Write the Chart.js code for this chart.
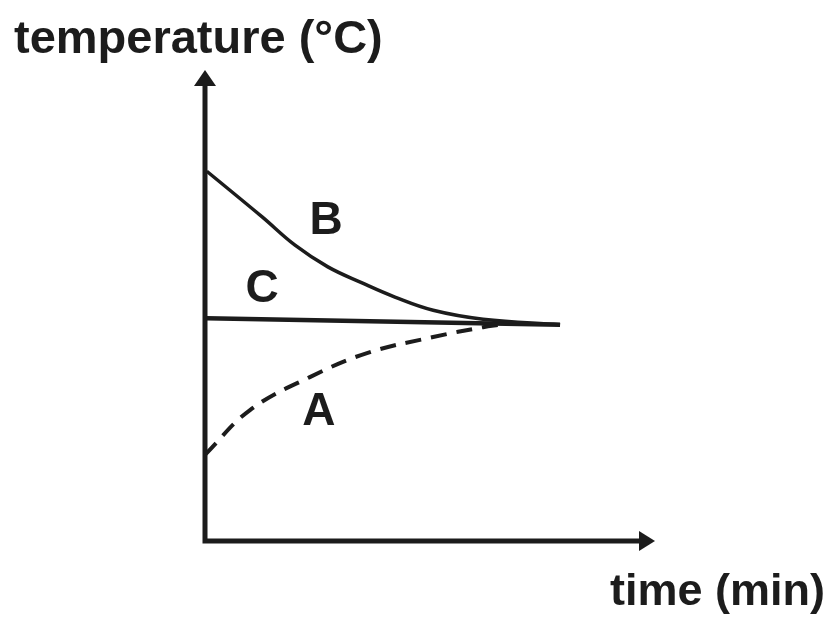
<!DOCTYPE html>
<html>
<head>
<meta charset="utf-8">
<script src="https://cdn.jsdelivr.net/npm/chart.js@4"></script>
<style>
  html, body { margin: 0; padding: 0; background: #ffffff; }
  #wrap { width: 826px; height: 621px; }
</style>
</head>
<body>
<div id="wrap"><canvas id="temp-chart" width="826" height="621"></canvas></div>
<script>
// curve B: hot sample cooling down
var b_time = [0.04, 1.27, 2.0, 2.73, 3.49, 4.22, 5.07, 6.18, 7.89];
var b_temp = [7.85, 6.88, 6.28, 5.82, 5.48, 5.18, 4.90, 4.71, 4.59];
// line C: constant temperature
var c_time = [0.04, 7.89];
var c_temp = [4.73, 4.59];
// curve A (dashed): cold sample warming up
var a_time = [0, 1.0, 2.33, 3.6, 5.07, 6.18, 6.56];
var a_temp = [1.83, 2.78, 3.48, 3.99, 4.33, 4.54, 4.59];
// curve letters and where they sit
var curve_names = ['B', 'C', 'A'];
var name_time = [2.69, 1.27, 2.53];
var name_temp = [6.79, 5.35, 2.74];

var y_title = 'temperature (°C)';
var x_title = 'time (min)';

var ink = '#1c1c1c';

function to_points(xs, ys){
    var pts = [];
    for (var i = 0; i < xs.length; i++){
        pts.push({x: xs[i], y: ys[i]});
    }
    return pts;
}

function arrow(ctx, x, y, dir){
    ctx.beginPath();
    if (dir == 'up'){
        ctx.moveTo(x, y);
        ctx.lineTo(x - 11, y + 16);
        ctx.lineTo(x + 11, y + 16);
    } else {
        ctx.moveTo(x, y);
        ctx.lineTo(x - 16, y - 10);
        ctx.lineTo(x - 16, y + 10);
    }
    ctx.closePath();
    ctx.fill();
}

var sketch_plugin = {
    id: 'sketch',
    beforeDatasetsDraw: function (chart) {
        var ctx = chart.ctx;
        var a = chart.chartArea;
        ctx.save();
        ctx.strokeStyle = ink;
        ctx.fillStyle = ink;
        ctx.lineWidth = 5;
        ctx.lineCap = 'square';
        ctx.beginPath();
        ctx.moveTo(a.left, a.top + 12);
        ctx.lineTo(a.left, a.bottom);
        ctx.lineTo(a.right - 12, a.bottom);
        ctx.stroke();
        arrow(ctx, a.left, a.top, 'up');
        arrow(ctx, a.right, a.bottom, 'right');
        ctx.restore();
    },
    afterDraw: function (chart) {
        var ctx = chart.ctx;
        var xs = chart.scales.x;
        var ys = chart.scales.y;
        ctx.save();
        ctx.fillStyle = ink;
        ctx.font = 'bold 46px "Liberation Sans", Arial, sans-serif';
        ctx.textAlign = 'center';
        ctx.textBaseline = 'middle';
        for (var i = 0; i < curve_names.length; i++){
            ctx.fillText(curve_names[i], xs.getPixelForValue(name_time[i]), ys.getPixelForValue(name_temp[i]));
        }
        ctx.textBaseline = 'alphabetic';
        ctx.textAlign = 'left';
        ctx.font = 'bold 47px "Liberation Sans", Arial, sans-serif';
        ctx.fillText(y_title, 14, 53);
        ctx.font = 'bold 45px "Liberation Sans", Arial, sans-serif';
        ctx.fillText(x_title, 610, 605);
        ctx.restore();
    }
};

var ctx = document.getElementById('temp-chart').getContext('2d');
var temp_chart = new Chart(ctx, {
    type: 'scatter',
    data: {
        datasets: [{
            label: 'B',
            data: to_points(b_time, b_temp),
            showLine: true,
            borderColor: ink,
            borderWidth: 3.5,
            pointRadius: 0,
            tension: 0.4,
            fill: false,
        }, {
            label: 'C',
            data: to_points(c_time, c_temp),
            showLine: true,
            borderColor: ink,
            borderWidth: 4.5,
            pointRadius: 0,
            fill: false,
        }, {
            label: 'A',
            data: to_points(a_time, a_temp),
            showLine: true,
            borderColor: ink,
            borderWidth: 4,
            borderDash: [16, 10],
            pointRadius: 0,
            tension: 0.4,
            fill: false,
        }]
    },
    options: {
        responsive: false,
        animation: false,
        layout: {
            padding: {left: 205, right: 171, top: 70, bottom: 80}
        },
        scales: {
            x: {type: 'linear', min: 0, max: 10, display: false},
            y: {type: 'linear', min: 0, max: 10, display: false}
        },
        plugins: {
            legend: {display: false},
            tooltip: {enabled: false}
        }
    },
    plugins: [sketch_plugin]
});
</script>
</body>
</html>
